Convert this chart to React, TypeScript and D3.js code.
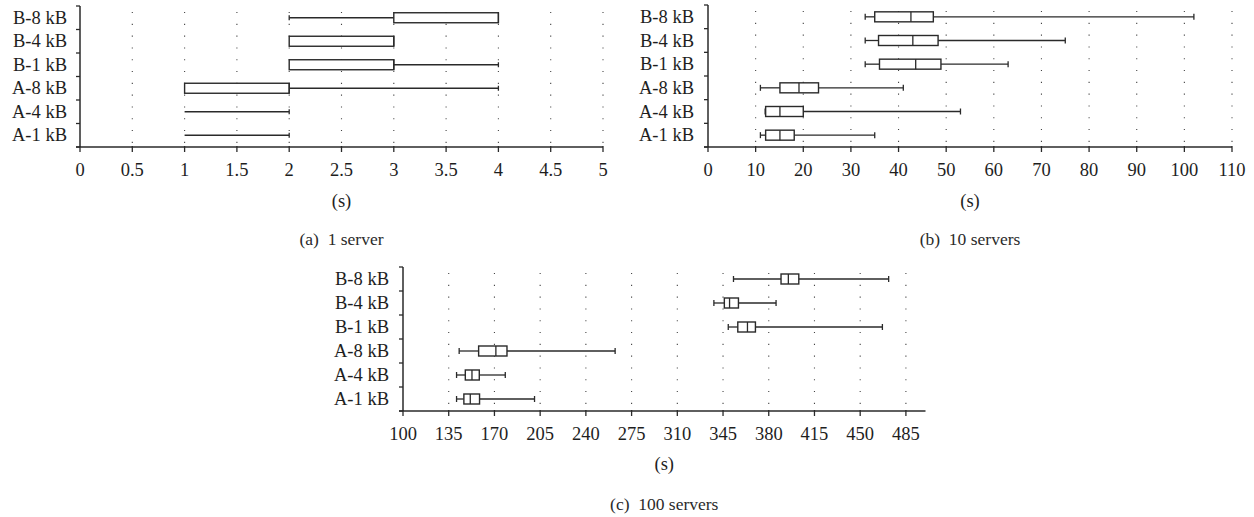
import React from "react";
import * as d3 from "d3";

// Categories bottom -> top
const categories = ["A-1 kB", "A-4 kB", "A-8 kB", "B-1 kB", "B-4 kB", "B-8 kB"];

// [min, q1, median, q3, max] per category
const stats1Server: number[][] = [
  [1, 1, 1, 1, 2],
  [1, 1, 1, 1, 2],
  [1, 1, 2, 2, 4],
  [2, 2, 3, 3, 4],
  [2, 2, 3, 3, 3],
  [2, 3, 4, 4, 4],
];
const stats10Servers: number[][] = [
  [11, 12.1, 15.1, 18.1, 35],
  [12, 12.1, 15.1, 20, 53],
  [11, 15.1, 19.1, 23.2, 41],
  [33, 36, 43.6, 48.9, 63],
  [33, 35.8, 43, 48.3, 75],
  [33, 35, 42.6, 47.3, 102],
];
const stats100Servers: number[][] = [
  [141, 146.6, 151.5, 158.6, 200.7],
  [141, 147.7, 152.8, 158.4, 178.3],
  [143, 157.9, 171.1, 179.6, 262.4],
  [349, 356.3, 363.7, 369.8, 467],
  [338, 346, 350, 356.8, 385.6],
  [353, 389.4, 395, 403, 471.8],
];

const ticks1 = [0, 0.5, 1, 1.5, 2, 2.5, 3, 3.5, 4, 4.5, 5];
const ticks10 = [0, 10, 20, 30, 40, 50, 60, 70, 80, 90, 100, 110];
const ticks100 = [100, 135, 170, 205, 240, 275, 310, 345, 380, 415, 450, 485];

const unitLabel = "(s)";
const captions = ["(a)  1 server", "(b)  10 servers", "(c)  100 servers"];

const FONT = "'Liberation Serif', 'Times New Roman', serif";
const INK = "#2a2a2a";

type PanelProps = {
  stats: number[][];
  ticks: number[];
  domain: [number, number];
  x0: number;
  x1: number;
  top: number;
  bottom: number;
  caption: string;
  tickBase: number;
  unitBase: number;
  capBase: number;
  labelX: number;
  capH: number;
};

function Panel(p: PanelProps) {
  const x = d3.scaleLinear().domain(p.domain).range([p.x0, p.x1]);
  const y = d3.scaleBand<string>().domain(categories.slice().reverse()).range([p.top, p.bottom]).padding(0);
  const boxH = 10;
  const bounds = d3.range(categories.length + 1).map((i) => p.top + i * y.step());
  const center = (p.x0 + p.x1) / 2;
  return (
    <g>
      {p.ticks
        .filter((t) => t !== p.domain[0])
        .map((t) => (
          <line
            key={"g" + t}
            x1={x(t)}
            x2={x(t)}
            y1={p.top + 6}
            y2={p.bottom}
            stroke="#444"
            strokeWidth={1.1}
            strokeDasharray="1.1 10.7"
          />
        ))}
      {categories.map((c, i) => {
        const [mn, q1, md, q3, mx] = p.stats[i];
        const cy = (y(c) as number) + y.bandwidth() / 2;
        return (
          <g key={c}>
            {mn < q1 && <line x1={x(mn)} x2={x(q1)} y1={cy} y2={cy} stroke={INK} strokeWidth={1.3} />}
            {mx > q3 && <line x1={x(q3)} x2={x(mx)} y1={cy} y2={cy} stroke={INK} strokeWidth={1.3} />}
            {mn < q1 && (
              <line x1={x(mn)} x2={x(mn)} y1={cy - p.capH / 2} y2={cy + p.capH / 2} stroke={INK} strokeWidth={1.3} />
            )}
            {mx > q3 && (
              <line x1={x(mx)} x2={x(mx)} y1={cy - p.capH / 2} y2={cy + p.capH / 2} stroke={INK} strokeWidth={1.3} />
            )}
            {q3 > q1 && (
              <rect
                x={x(q1)}
                y={cy - boxH / 2}
                width={x(q3) - x(q1)}
                height={boxH}
                fill="#fff"
                stroke={INK}
                strokeWidth={1.4}
              />
            )}
            {q3 > q1 && (
              <line x1={x(md)} x2={x(md)} y1={cy - boxH / 2} y2={cy + boxH / 2} stroke={INK} strokeWidth={1.3} />
            )}
            <text x={p.labelX} y={cy + 6} textAnchor="end" fontFamily={FONT} fontSize={18.5} fill="#1e1e1e">
              {c}
            </text>
          </g>
        );
      })}
      <line x1={p.x0} x2={p.x0} y1={p.top} y2={p.bottom} stroke={INK} strokeWidth={1.5} />
      {bounds.map((b, i) => (
        <line key={"yt" + i} x1={p.x0 - 4} x2={p.x0} y1={b} y2={b} stroke={INK} strokeWidth={1.3} />
      ))}
      <line x1={p.x0 - 4} x2={p.x1} y1={p.bottom} y2={p.bottom} stroke={INK} strokeWidth={1.5} />
      {p.ticks.map((t) => (
        <g key={"xt" + t}>
          <line x1={x(t)} x2={x(t)} y1={p.bottom - 1} y2={p.bottom + 5} stroke={INK} strokeWidth={1.3} />
          <text x={x(t)} y={p.tickBase} textAnchor="middle" fontFamily={FONT} fontSize={18.5} fill="#1e1e1e">
            {String(t)}
          </text>
        </g>
      ))}
      <text x={center} y={p.unitBase} textAnchor="middle" fontFamily={FONT} fontSize={18.5} fill="#1e1e1e">
        {unitLabel}
      </text>
      <text
        x={center}
        y={p.capBase}
        textAnchor="middle"
        fontFamily={FONT}
        fontSize={17.5}
        fill="#2a2a2a"
        style={{ whiteSpace: "pre" }}
      >
        {p.caption}
      </text>
    </g>
  );
}

export default function App() {
  return (
    <svg
      width={1254}
      height={517}
      viewBox="0 0 1254 517"
      style={{ position: "absolute", left: 0, top: 0, background: "#fff" }}
    >
      <rect x={0} y={0} width={1254} height={517} fill="#fff" />
      <Panel
        stats={stats1Server}
        ticks={ticks1}
        domain={[0, 5]}
        x0={80}
        x1={603}
        top={6}
        bottom={147}
        caption={captions[0]}
        tickBase={176}
        unitBase={207}
        capBase={245}
        labelX={67}
        capH={5}
      />
      <Panel
        stats={stats10Servers}
        ticks={ticks10}
        domain={[0, 110]}
        x0={708}
        x1={1232}
        top={5}
        bottom={147}
        caption={captions[1]}
        tickBase={176}
        unitBase={207}
        capBase={245}
        labelX={694}
        capH={6}
      />
      <Panel
        stats={stats100Servers}
        ticks={ticks100}
        domain={[100, 500]}
        x0={403}
        x1={925.5}
        top={267}
        bottom={411}
        caption={captions[2]}
        tickBase={440}
        unitBase={470}
        capBase={510}
        labelX={389}
        capH={6}
      />
    </svg>
  );
}
